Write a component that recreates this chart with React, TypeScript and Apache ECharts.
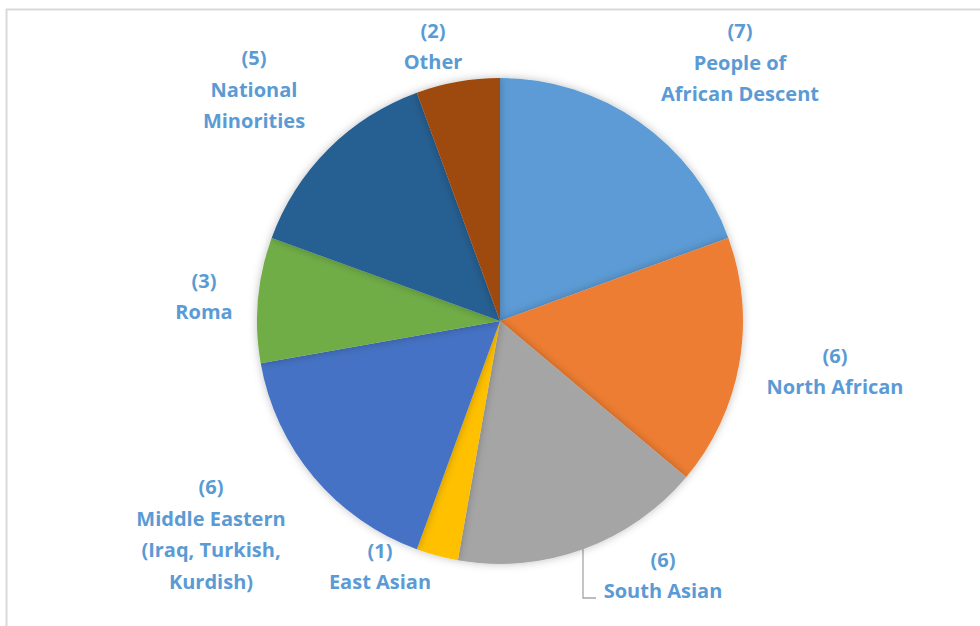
import React, { useEffect, useRef } from "react";
import * as echarts from "echarts";

const categories = [
  "People of\nAfrican Descent",
  "North African",
  "South Asian",
  "East Asian",
  "Middle Eastern\n(Iraq, Turkish,\nKurdish)",
  "Roma",
  "National\nMinorities",
  "Other",
];
const values = [7, 6, 6, 1, 6, 3, 5, 2];
const colors = ["#5B9BD5", "#ED7D31", "#A5A5A5", "#FFC000", "#4472C4", "#70AD47", "#255E91", "#9E480E"];

// label anchor positions (centre of each label block)
const labelPos: [number, number][] = [
  [740, 62],
  [835, 371],
  [663, 575],
  [380, 566],
  [211, 534],
  [204, 296],
  [254, 89],
  [433, 46],
];

export default function App() {
  const ref = useRef<HTMLDivElement>(null);
  useEffect(() => {
    document.body.style.margin = "0";
    const chart = echarts.init(ref.current!, null, { renderer: "svg" });
    chart.setOption({
      animation: false,
      backgroundColor: "#ffffff",
      graphic: [
        { type: "line", shape: { x1: 6.5, y1: 9, x2: 6.5, y2: 626 }, style: { stroke: "#d9d9d9", lineWidth: 2 } },
        { type: "line", shape: { x1: 6, y1: 9.5, x2: 980, y2: 9.5 }, style: { stroke: "#d9d9d9", lineWidth: 2 } },
      ],
      series: [
        {
          type: "pie",
          center: [500, 321],
          radius: [0, 243],
          startAngle: 90,
          clockwise: true,
          data: categories.map((name, i) => ({
            name,
            value: values[i],
            itemStyle: { color: colors[i] },
            labelLine: i === 2 ? { show: true } : { show: false },
          })),
          itemStyle: {
            borderWidth: 0,
            shadowBlur: 8,
            shadowColor: "rgba(0,0,0,0.25)",
          },
          label: {
            show: true,
            position: "outside",
            formatter: "({c})\n{b}",
            color: "#5B9BD5",
            fontFamily: "Open Sans",
            fontWeight: 700,
            fontSize: 20,
            lineHeight: 31.5,
            align: "center",
          },
          labelLine: {
            show: false,
            lineStyle: { color: "#A6A6A6", width: 1.3 },
          },
          labelLayout: (params: any) => {
            const i = params.dataIndex;
            const [x, y] = labelPos[i];
            const out: any = { x, y, align: "center", verticalAlign: "middle" };
            if (i === 2) {
              out.labelLinePoints = [
                [583, 549],
                [583, 598],
                [596, 598],
              ];
            }
            return out;
          },
          emphasis: { disabled: true },
        },
      ],
    });
    return () => chart.dispose();
  }, []);
  return <div ref={ref} style={{ width: 980, height: 626 }} />;
}
